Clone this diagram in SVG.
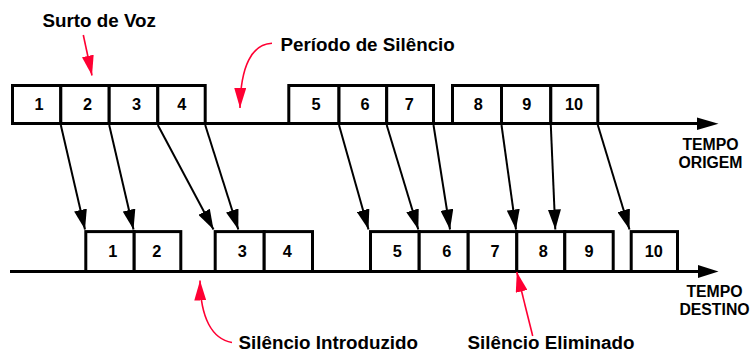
<svg xmlns="http://www.w3.org/2000/svg" width="751" height="353" viewBox="0 0 751 353">
<style>
  text { font-family: "Liberation Sans", Arial, sans-serif; font-weight: bold; fill: #000; }
  .num { font-size: 16.3px; text-anchor: middle; }
  .lbl { font-size: 18.8px; }
  .axl { font-size: 15.8px; text-anchor: middle; }
  .box { fill: #fff; stroke: #000; stroke-width: 3; }
  .axis { stroke: #000; stroke-width: 3; fill: none; }
  .conn { stroke: #000; stroke-width: 2; fill: none; marker-end: url(#blk); }
  .red { stroke: #ff0033; stroke-width: 1.6; fill: none; marker-end: url(#redh); }
</style>
<defs>
  <marker id="blk" markerUnits="userSpaceOnUse" viewBox="0 0 20 13" markerWidth="20" markerHeight="13" refX="20" refY="6.5" orient="auto">
    <path d="M0,0 L20,6.5 L0,13 Z" fill="#000"/>
  </marker>
  <marker id="redh" markerUnits="userSpaceOnUse" viewBox="0 0 20 12" markerWidth="20" markerHeight="12" refX="20" refY="6" orient="auto">
    <path d="M0,0 L20,6 L0,12 Z" fill="#ff0033"/>
  </marker>
</defs>
<rect width="751" height="353" fill="#fff"/>

<g id="axes">
  <line class="axis" x1="12" y1="123.5" x2="700" y2="123.5"/>
  <polygon points="697,117.5 718.5,123.8 697,130" fill="#000"/>
  <line class="axis" x1="10" y1="271.5" x2="700" y2="271.5"/>
  <polygon points="698,265 718.5,271.5 698,278" fill="#000"/>
</g>

<g id="origem-boxes">
  <g id="o1"><rect class="box" x="12.5" y="85.5" width="48.3" height="38"/><text class="num" x="39" y="110">1</text></g>
  <g id="o2"><rect class="box" x="60.8" y="85.5" width="48.4" height="38"/><text class="num" x="87.5" y="110">2</text></g>
  <g id="o3"><rect class="box" x="109.2" y="85.5" width="48.6" height="38"/><text class="num" x="136.5" y="110">3</text></g>
  <g id="o4"><rect class="box" x="157.8" y="85.5" width="47.4" height="38"/><text class="num" x="181.7" y="110">4</text></g>
  <g id="o5"><rect class="box" x="288.8" y="85.5" width="50.2" height="38"/><text class="num" x="316" y="110">5</text></g>
  <g id="o6"><rect class="box" x="339" y="85.5" width="47.7" height="38"/><text class="num" x="365" y="110">6</text></g>
  <g id="o7"><rect class="box" x="386.7" y="85.5" width="46.8" height="38"/><text class="num" x="409.3" y="110">7</text></g>
  <g id="o8"><rect class="box" x="452.5" y="85.5" width="49" height="38"/><text class="num" x="478.3" y="110">8</text></g>
  <g id="o9"><rect class="box" x="501.5" y="85.5" width="49.3" height="38"/><text class="num" x="526.7" y="110">9</text></g>
  <g id="o10"><rect class="box" x="550.8" y="85.5" width="47" height="38"/><text class="num" x="574" y="110">10</text></g>
</g>

<g id="destino-boxes">
  <g id="d1"><rect class="box" x="85.8" y="231.6" width="48.4" height="39.9"/><text class="num" x="112.7" y="256.7">1</text></g>
  <g id="d2"><rect class="box" x="134.2" y="231.6" width="46.6" height="39.9"/><text class="num" x="156.7" y="256.7">2</text></g>
  <g id="d3"><rect class="box" x="215.2" y="231.6" width="49" height="39.9"/><text class="num" x="242.3" y="256.7">3</text></g>
  <g id="d4"><rect class="box" x="264.2" y="231.6" width="48.3" height="39.9"/><text class="num" x="287.3" y="256.7">4</text></g>
  <g id="d5"><rect class="box" x="370.5" y="231.6" width="48.7" height="39.9"/><text class="num" x="397.3" y="256.7">5</text></g>
  <g id="d6"><rect class="box" x="419.2" y="231.6" width="49" height="39.9"/><text class="num" x="446.7" y="256.7">6</text></g>
  <g id="d7"><rect class="box" x="468.2" y="231.6" width="48.6" height="39.9"/><text class="num" x="495" y="256.7">7</text></g>
  <g id="d8"><rect class="box" x="516.8" y="231.6" width="48" height="39.9"/><text class="num" x="543.3" y="256.7">8</text></g>
  <g id="d9"><rect class="box" x="564.8" y="231.6" width="48.4" height="39.9"/><text class="num" x="589" y="256.7">9</text></g>
  <g id="d10"><rect class="box" x="631.2" y="231.6" width="46.3" height="39.9"/><text class="num" x="653.8" y="256.7">10</text></g>
</g>

<g id="connectors">
  <line class="conn" x1="60.8" y1="125" x2="85" y2="229.5"/>
  <line class="conn" x1="109.2" y1="125" x2="133.5" y2="229.5"/>
  <line class="conn" x1="157.8" y1="125" x2="213.5" y2="229.5"/>
  <line class="conn" x1="205.2" y1="125" x2="238.3" y2="229.5"/>
  <line class="conn" x1="339" y1="125" x2="368.5" y2="229.5"/>
  <line class="conn" x1="386.7" y1="125" x2="418.3" y2="229.5"/>
  <line class="conn" x1="433.5" y1="125" x2="450" y2="229.5"/>
  <line class="conn" x1="501.5" y1="125" x2="516" y2="229.5"/>
  <line class="conn" x1="550.8" y1="125" x2="555.3" y2="229.5"/>
  <line class="conn" x1="597.8" y1="125" x2="629.5" y2="229.5"/>
</g>

<g id="annotations">
  <line class="red" x1="83.3" y1="35" x2="92" y2="75.5"/>
  <path class="red" d="M272,43.3 C252,44 240.5,66 240,108"/>
  <path class="red" d="M232,342.5 C212,339 200.5,318 200,280.5"/>
  <line class="red" x1="532.7" y1="336" x2="516.8" y2="272"/>
</g>

<g id="labels">
  <text class="lbl" x="42.5" y="26.7">Surto de Voz</text>
  <text class="lbl" x="280.5" y="51">Período de Silêncio</text>
  <text class="lbl" x="238.5" y="348.5">Silêncio Introduzido</text>
  <text class="lbl" x="467.5" y="348.5">Silêncio Eliminado</text>
  <text class="axl" x="710.5" y="150">TEMPO</text>
  <text class="axl" x="710.5" y="168">ORIGEM</text>
  <text class="axl" x="714.5" y="296.7">TEMPO</text>
  <text class="axl" x="714.5" y="315">DESTINO</text>
</g>
</svg>
